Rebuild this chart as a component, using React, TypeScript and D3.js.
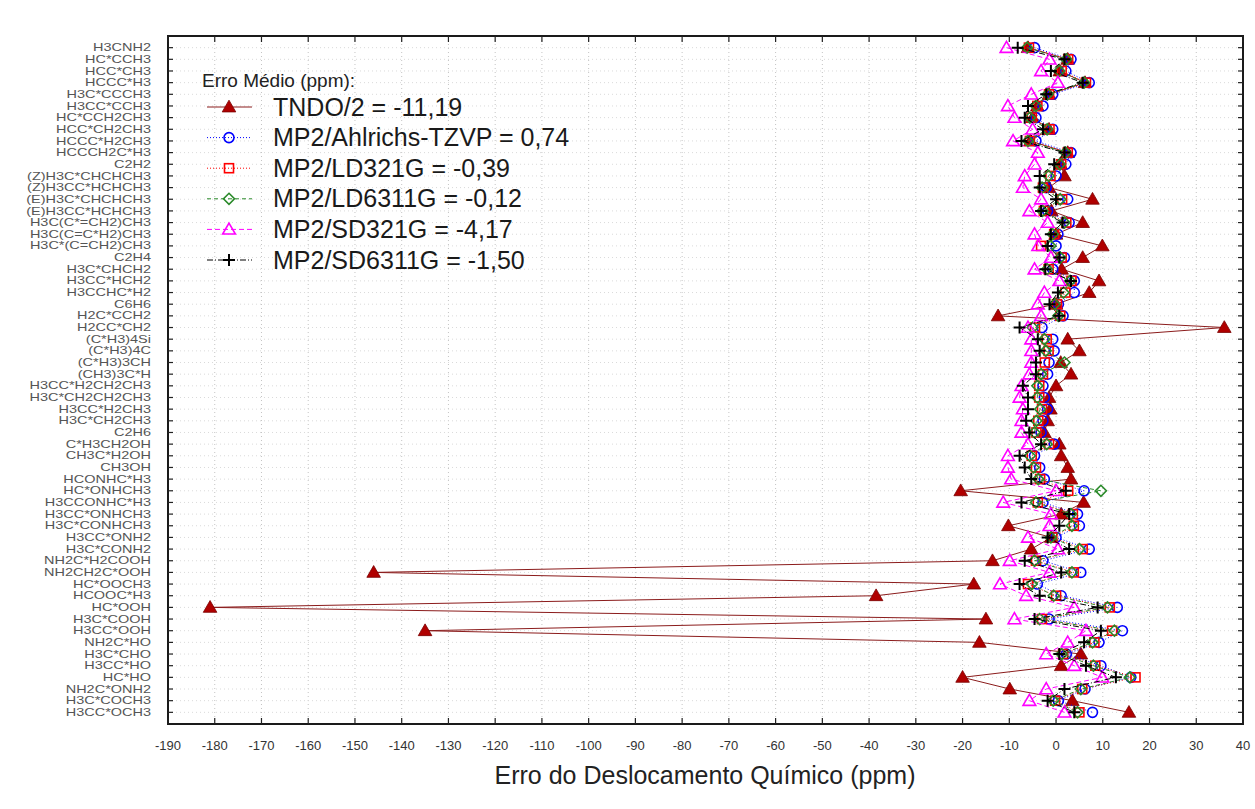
import React, { useEffect, useRef } from "react";
import * as d3 from "d3";

// molecules / carbons on the vertical axis, top to bottom
const categories = [
  "H3CNH2", "HC*CCH3", "HCC*CH3", "HCCC*H3", "H3C*CCCH3", "H3CC*CCH3",
  "HC*CCH2CH3", "HCC*CH2CH3", "HCCC*H2CH3", "HCCCH2C*H3", "C2H2",
  "(Z)H3C*CHCHCH3", "(Z)H3CC*HCHCH3", "(E)H3C*CHCHCH3", "(E)H3CC*HCHCH3",
  "H3C(C*=CH2)CH3", "H3C(C=C*H2)CH3", "H3C*(C=CH2)CH3", "C2H4",
  "H3C*CHCH2", "H3CC*HCH2", "H3CCHC*H2", "C6H6", "H2C*CCH2", "H2CC*CH2",
  "(C*H3)4Si", "(C*H3)4C", "(C*H3)3CH", "(CH3)3C*H",
  "H3CC*H2CH2CH3", "H3C*CH2CH2CH3", "H3CC*H2CH3", "H3C*CH2CH3", "C2H6",
  "C*H3CH2OH", "CH3C*H2OH", "CH3OH", "HCONHC*H3", "HC*ONHCH3",
  "H3CCONHC*H3", "H3CC*ONHCH3", "H3C*CONHCH3", "H3CC*ONH2", "H3C*CONH2",
  "NH2C*H2COOH", "NH2CH2C*OOH", "HC*OOCH3", "HCOOC*H3", "HC*OOH",
  "H3C*COOH", "H3CC*OOH", "NH2C*HO", "H3C*CHO", "H3CC*HO", "HC*HO",
  "NH2C*ONH2", "H3C*COCH3", "H3CC*OCH3"
];

const tndo = [
  -6, 2.5, 0.8, 6.2, -1.5, -4, -5, -1.5, -5.5, 2.5, 1,
  1.8, -1.5, 7.8, -1, 5.7, 0, 9.9, 5.7,
  1.2, 9.2, 7.1, 0, -12.4, 36,
  2.5, 5, 1, 3.2,
  0, -1.5, -1.2, -1.8, -2.5,
  0.7, 1.1, 2.5, 3.2, -20.4,
  5.9, 1.1, -10.2, -1, -5.3,
  -13.6, -146, -17.6, -38.5, -181,
  -15, -135, -16.4, 5.3, 1.1, -20,
  -9.9, 3.5, 15.6
];

const ahlrichs = [
  -4.6, 3.2, 2.1, 7.1, -0.7, -2.8, -4.3, -0.7, -4.3, 3.2, 2.1,
  0, -2.1, 2.5, -1.8, 2.8, 0.4, 0, 1.8,
  -0.7, 3.9, 3.9, 0.5, 1.5, -3,
  -0.7, -0.4, -1.5, -1.8,
  -2.8, -2.5, -1.8, -2.8, -3.2,
  -0.4, -4.6, -3.5, -2.5, 6,
  -2.8, 4.6, 5, 0, 7.1,
  -2.8, 5.3, -4, 1.1, 13.1,
  -1.5, 14.2, 9.2, 2.2, 9.6, 16,
  6.2, 0.5, 7.8
];

const ld321 = [
  -5.8, 2.6, 1.2, 6.4, -1.5, -4, -5.2, -1.4, -5.6, 2.5, 1.1,
  -1.2, -2.8, 1.3, -2.6, 2.2, -0.4, -3.2, 1.2,
  -1.6, 3.3, 2, 0.2, 0.9, -4.5,
  -2, -1.6, -2.4, -2.8,
  -3.6, -3.6, -3, -3.8, -4.2,
  -1.5, -5.2, -4.3, -3.4, 2.6,
  -3.9, 3.6, 3.8, -0.8, 5.7,
  -4.3, 3.8, -6, 0, 11.5,
  -3, 12, 8.2, 1.5, 8.4, 17,
  5.6, -0.2, 5
];

const ld6311 = [
  -6.2, 2.2, 0.7, 6, -1.8, -4.3, -5.6, -1.9, -6, 2, 0.8,
  -1.6, -3, 0.9, -2.9, 1.8, -0.7, -1.2, 0.9,
  -1.9, 3, 1.6, -0.3, 0.5, -5,
  -2.5, -2.2, 1.8, -3.2,
  -4, -4, -3.4, -4.2, -4.6,
  -2, -5.6, -4.8, -3.8, 9.6,
  -4.3, 3.2, 3.4, -1.1, 5,
  -4.6, 3.4, -5.2, -0.5, 11,
  -3.5, 12.5, 7.8, 1.2, 8, 15.8,
  5.3, -0.6, 4.6
];

const sd321 = [
  -10.6, -1.4, -3.2, 0.4, -5.3, -10.3, -8.9, -5, -9.2, -3.9, -4.6,
  -6.7, -7.1, -3.2, -5.7, -1.8, -4.6, -3.8, -1.1,
  -4.6, 0.7, -2.5, -3.9, -3.2, -6,
  -5.3, -5.3, -5.3, -5.7,
  -7.4, -7.8, -7.1, -7.4, -7.4,
  -6, -10.3, -10.3, -9.6, 0,
  -11.3, -1.1, -1.4, -6, 0.4,
  -9.9, -1.4, -12, -6.4, 3.9,
  -8.9, 6.4, 2.5, -2.1, 3.9, 9.9,
  -2.1, -5.7, 1.8
];

const sd6311 = [
  -8.2, 1.8, -1.1, 5.7, -2.1, -6, -6.7, -2.8, -7.4, 1.8, -0.4,
  -3.5, -3.5, 0, -3.2, 1.4, -1.1, -1.8, 0.7,
  -2.3, 3.2, 0.4, -1.4, 0.7, -7.8,
  -3.9, -3.5, -4.3, -4.3,
  -7.1, -6, -6, -6.4, -5.7,
  -3.2, -7.8, -6.7, -5.3, 2.1,
  -7.4, 2.8, 0.7, -1.8, 2.8,
  -6.7, 1.1, -7.8, -3.5, 8.9,
  -4.6, 9.6, 6, 0.7, 6.4, 12.8,
  1.8, -1.8, 3.9
];

const xTickValues = [
  -190, -180, -170, -160, -150, -140, -130, -120, -110, -100, -90, -80,
  -70, -60, -50, -40, -30, -20, -10, 0, 10, 20, 30, 40
];

const legendTitle = "Erro Médio (ppm):";
const legendLabels = [
  "TNDO/2 = -11,19",
  "MP2/Ahlrichs-TZVP = 0,74",
  "MP2/LD321G = -0,39",
  "MP2/LD6311G = -0,12",
  "MP2/SD321G = -4,17",
  "MP2/SD6311G = -1,50"
];
const xTitle = "Erro do Deslocamento Químico (ppm)";

const series = [
  { values: tndo, color: "#b00000", line: "#8b1c1c", dash: null, marker: "filledTriangle" },
  { values: ahlrichs, color: "#0000ff", line: "#0000ff", dash: "1,2", marker: "circle" },
  { values: ld321, color: "#ff0000", line: "#ff0000", dash: "1,2", marker: "square" },
  { values: ld6311, color: "#2a8a2a", line: "#2a8a2a", dash: "4,3", marker: "diamond" },
  { values: sd321, color: "#ff00ff", line: "#ff00ff", dash: "5,3", marker: "triangle" },
  { values: sd6311, color: "#000000", line: "#000000", dash: "6,2,1,2", marker: "plus" }
];

const FONT = "'Liberation Sans', Arial, sans-serif";

function drawMarker(g, kind, color, x, y) {
  if (kind === "filledTriangle") {
    g.append("path")
      .attr("d", d3.symbol(d3.symbolTriangle, 80)())
      .attr("transform", "translate(" + x + "," + (y + 1) + ")")
      .attr("fill", color)
      .attr("stroke", "#7a0000")
      .attr("stroke-width", 0.8);
  } else if (kind === "circle") {
    g.append("circle")
      .attr("cx", x).attr("cy", y).attr("r", 5)
      .attr("fill", "none").attr("stroke", color).attr("stroke-width", 1.6);
  } else if (kind === "square") {
    g.append("rect")
      .attr("x", x - 4.5).attr("y", y - 4.5).attr("width", 9).attr("height", 9)
      .attr("fill", "none").attr("stroke", color).attr("stroke-width", 1.6);
  } else if (kind === "diamond") {
    g.append("path")
      .attr("d", "M0,-5.5L5.5,0L0,5.5L-5.5,0Z")
      .attr("transform", "translate(" + x + "," + y + ")")
      .attr("fill", "none").attr("stroke", color).attr("stroke-width", 1.6);
  } else if (kind === "triangle") {
    g.append("path")
      .attr("d", d3.symbol(d3.symbolTriangle, 70)())
      .attr("transform", "translate(" + x + "," + (y + 1) + ")")
      .attr("fill", "none").attr("stroke", color).attr("stroke-width", 1.6);
  } else if (kind === "plus") {
    g.append("path")
      .attr("d", "M-6,0H6M0,-6V6")
      .attr("transform", "translate(" + x + "," + y + ")")
      .attr("fill", "none").attr("stroke", color).attr("stroke-width", 2);
  }
}

export default function App() {
  const ref = useRef(null);

  useEffect(() => {
    const svg = d3.select(ref.current);
    svg.selectAll("*").remove();

    const left = 168, right = 1243, top = 36, bottom = 724;

    const x = d3.scaleLinear().domain([-190, 40]).range([left, right]);
    const y = d3.scalePoint().domain(categories).range([top, bottom]).padding(1);

    svg.append("rect").attr("width", 1255).attr("height", 809).attr("fill", "#ffffff");

    // grid
    const grid = svg.append("g");
    xTickValues.forEach(v => {
      grid.append("line")
        .attr("x1", x(v)).attr("x2", x(v)).attr("y1", top).attr("y2", bottom)
        .attr("stroke", "#c4c4c4").attr("stroke-dasharray", "1,3");
    });
    categories.forEach(c => {
      grid.append("line")
        .attr("x1", left).attr("x2", right).attr("y1", y(c)).attr("y2", y(c))
        .attr("stroke", "#dadada").attr("stroke-dasharray", "1,3");
    });

    // series
    series.forEach(s => {
      const g = svg.append("g");
      const line = d3.line()
        .x(d => x(d[0]))
        .y(d => y(d[1]));
      const pts = s.values.map((v, i) => [v, categories[i]]);
      g.append("path")
        .attr("d", line(pts))
        .attr("fill", "none")
        .attr("stroke", s.line)
        .attr("stroke-width", 1)
        .attr("stroke-dasharray", s.dash);
      pts.forEach(p => drawMarker(g, s.marker, s.color, x(p[0]), y(p[1])));
    });

    // frame + ticks
    svg.append("rect")
      .attr("x", left).attr("y", top)
      .attr("width", right - left).attr("height", bottom - top)
      .attr("fill", "none").attr("stroke", "#1a1a1a").attr("stroke-width", 2);

    const ticks = svg.append("g").attr("stroke", "#222").attr("stroke-width", 1.2);
    xTickValues.forEach(v => {
      ticks.append("line").attr("x1", x(v)).attr("x2", x(v)).attr("y1", bottom).attr("y2", bottom - 6);
      ticks.append("line").attr("x1", x(v)).attr("x2", x(v)).attr("y1", top).attr("y2", top + 6);
    });
    categories.forEach(c => {
      ticks.append("line").attr("x1", left).attr("x2", left + 5).attr("y1", y(c)).attr("y2", y(c));
      ticks.append("line").attr("x1", right).attr("x2", right - 5).attr("y1", y(c)).attr("y2", y(c));
    });

    // x tick labels
    svg.append("g").selectAll("text")
      .data(xTickValues)
      .enter().append("text")
      .attr("x", d => x(d))
      .attr("y", 750)
      .attr("text-anchor", "middle")
      .attr("font-family", FONT)
      .attr("font-size", 13)
      .attr("fill", "#333")
      .text(d => d);

    // category labels, stretched wide like the original
    svg.append("g").selectAll("text")
      .data(categories)
      .enter().append("text")
      .attr("transform", d => "translate(151," + (y(d) + 3.6) + ") scale(1.45,1)")
      .attr("text-anchor", "end")
      .attr("font-family", FONT)
      .attr("font-size", 10)
      .attr("fill", "#555")
      .text(d => d);

    // x axis title
    svg.append("text")
      .attr("x", 705).attr("y", 784)
      .attr("text-anchor", "middle")
      .attr("font-family", FONT)
      .attr("font-size", 25)
      .attr("fill", "#222")
      .text(xTitle);

    // legend
    const lg = svg.append("g");
    lg.append("text")
      .attr("x", 202).attr("y", 87)
      .attr("font-family", FONT).attr("font-size", 19).attr("fill", "#222")
      .text(legendTitle);
    legendLabels.forEach((label, i) => {
      const s = series[i];
      const ly = 107 + i * 30.6;
      lg.append("line")
        .attr("x1", 207).attr("x2", 252).attr("y1", ly).attr("y2", ly)
        .attr("stroke", s.line).attr("stroke-width", 1)
        .attr("stroke-dasharray", s.dash);
      drawMarker(lg, s.marker, s.color, 229, ly);
      lg.append("text")
        .attr("x", 273).attr("y", ly + 8.5)
        .attr("font-family", FONT).attr("font-size", 25).attr("fill", "#1a1a1a")
        .text(label);
    });
  }, []);

  return (
    <div>
      <svg ref={ref} width={1255} height={809}
        style={{ position: "absolute", left: 0, top: 0 }} />
    </div>
  );
}
